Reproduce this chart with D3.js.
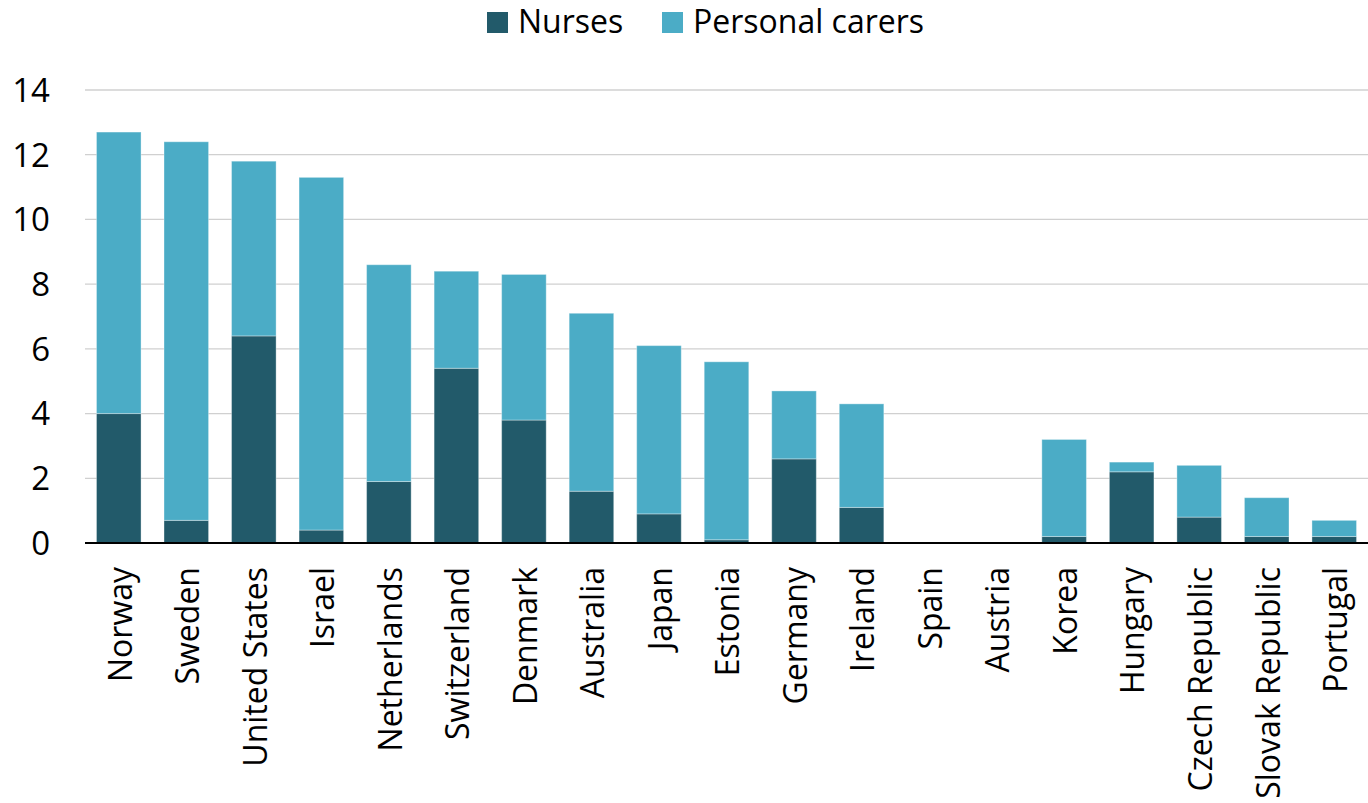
<!DOCTYPE html>
<html>
<head>
<meta charset="utf-8">
<script src="https://cdn.jsdelivr.net/npm/d3@7"></script>
<style>
  body { margin: 0; background: #fff; }
  svg text { font-family: "Open Sans", "Noto Sans", sans-serif; fill: #000; }
</style>
</head>
<body>
<svg id="chart" width="1368" height="803"></svg>
<script>
const countries = ["Norway", "Sweden", "United States", "Israel", "Netherlands", "Switzerland",
  "Denmark", "Australia", "Japan", "Estonia", "Germany", "Ireland", "Spain", "Austria",
  "Korea", "Hungary", "Czech Republic", "Slovak Republic", "Portugal"];
const nurses = [4.0, 0.7, 6.4, 0.4, 1.9, 5.4, 3.8, 1.6, 0.9, 0.1, 2.6, 1.1, 0, 0, 0.2, 2.2, 0.8, 0.2, 0.2];
const carers = [8.7, 11.7, 5.4, 10.9, 6.7, 3.0, 4.5, 5.5, 5.2, 5.5, 2.1, 3.2, 0, 0, 3.0, 0.3, 1.6, 1.2, 0.5];
const yTicks = [0, 2, 4, 6, 8, 10, 12, 14];
const seriesNames = ["Nurses", "Personal carers"];
const colors = ["#225a6a", "#4bacc6"];

const svg = d3.select("#chart");
const margin = {left: 85, right: 0, top: 90, bottom: 260};
const width = 1368, height = 803;

const rows = countries.map((c, i) => ({country: c, nurses: nurses[i], carers: carers[i]}));
const stack = d3.stack().keys(["nurses", "carers"])(rows);

const x = d3.scaleBand()
  .domain(countries)
  .range([margin.left, width - margin.right])
  .paddingInner(0.34)
  .paddingOuter(0.17);

const y = d3.scaleLinear()
  .domain([0, 14])
  .range([height - margin.bottom, margin.top]);

// gridlines
svg.append("g")
  .selectAll("line")
  .data(yTicks.filter(d => d > 0))
  .enter().append("line")
  .attr("x1", margin.left)
  .attr("x2", width - margin.right)
  .attr("y1", d => y(d))
  .attr("y2", d => y(d))
  .style("stroke", "#d0d0d0")
  .style("stroke-width", 1.3);

// y labels
svg.append("g")
  .selectAll("text")
  .data(yTicks)
  .enter().append("text")
  .attr("x", 50)
  .attr("y", d => y(d))
  .attr("dy", "0.36em")
  .attr("text-anchor", "end")
  .style("font-size", "33px")
  .text(d => d);

// bars
svg.append("g")
  .selectAll("g")
  .data(stack)
  .enter().append("g")
  .style("fill", (d, i) => colors[i])
  .selectAll("rect")
  .data(d => d)
  .enter().append("rect")
  .attr("x", d => x(d.data.country))
  .attr("width", x.bandwidth())
  .attr("y", d => y(d[1]))
  .attr("height", d => y(d[0]) - y(d[1]))
  .style("stroke", "rgba(255,255,255,0.35)")
  .style("stroke-width", 1);

// x axis line
svg.append("line")
  .attr("x1", margin.left)
  .attr("x2", width - margin.right)
  .attr("y1", y(0))
  .attr("y2", y(0))
  .style("stroke", "#000")
  .style("stroke-width", 2);

// x labels
svg.append("g")
  .selectAll("text")
  .data(countries)
  .enter().append("text")
  .attr("transform", d => "translate(" + (x(d) + x.bandwidth() / 2) + "," + (y(0) + 24) + ") rotate(-90)")
  .attr("dy", "0.4em")
  .attr("text-anchor", "end")
  .style("font-size", "32px")
  .text(d => d);

// legend
const legend = svg.append("g");
const legendPos = [487, 662];
seriesNames.forEach((name, i) => {
  legend.append("rect")
    .attr("x", legendPos[i])
    .attr("y", 12)
    .attr("width", 21)
    .attr("height", 21)
    .style("fill", colors[i]);
  legend.append("text")
    .attr("x", legendPos[i] + 31)
    .attr("y", 33)
    .style("font-size", "32px")
    .text(name);
});
</script>
</body>
</html>
